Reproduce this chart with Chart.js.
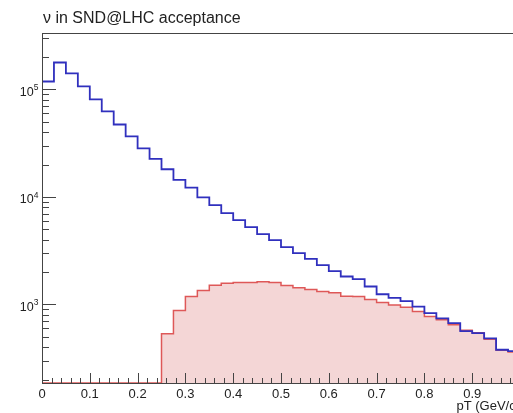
<!DOCTYPE html>
<html>
<head>
<meta charset="utf-8">
<script src="https://cdn.jsdelivr.net/npm/chart.js@4"></script>
<style>
  html, body { margin: 0; padding: 0; background: #fff; overflow: hidden; }
  #wrap { width: 513px; height: 413px; overflow: hidden; }
</style>
</head>
<body>
<div id="wrap"><canvas id="myChart" width="540" height="413"></canvas></div>
<script>
const titleText = "ν in SND@LHC acceptance";
const xTitle = "pT (GeV/c)";

const binWidth = 0.025;
const xTickLabels = ["0", "0.1", "0.2", "0.3", "0.4", "0.5", "0.6", "0.7", "0.8", "0.9", "1"];

// all neutrinos in acceptance
const allCounts = [118600, 178000, 141000, 107000, 81000, 62400, 47200, 36600, 28300, 22600,
  18100, 14400, 12200, 9900, 8400, 7070, 6080, 5240, 4510, 3960,
  3410, 3000, 2660, 2320, 2040, 1820, 1720, 1470, 1245, 1153,
  1072, 956, 830, 741, 670, 565, 541, 483, 379, 368];

// selected ones (red, filled)
const selCounts = [0, 0, 0, 0, 0, 0, 0, 0, 0, 0,
  534, 880, 1187, 1350, 1513, 1578, 1603, 1603, 1625, 1600,
  1502, 1428, 1379, 1321, 1285, 1190, 1187, 1113, 1044, 986,
  944, 861, 773, 720, 646, 577, 546, 476, 375, 362];

const yMin = 186, yMax = 335000;

// one point per bin low edge, plus the last upper edge
function toSteps(counts) {
  var pts = counts.map(function (v, i) {
    return { x: i * binWidth, y: Math.max(v, yMin) };
  });
  pts.push({ x: counts.length * binWidth, y: Math.max(counts[counts.length - 1], yMin) });
  return pts;
}

var rootAxes = {
  id: 'rootAxes',
  afterDatasetsDraw: function (chart) {
    var ctx = chart.ctx, a = chart.chartArea;
    var xs = chart.scales.x, ys = chart.scales.y;
    ctx.save();
    ctx.strokeStyle = '#444';
    ctx.lineWidth = 1;
    ctx.strokeRect(Math.round(a.left) + 0.5, Math.round(a.top) + 0.5, a.right - a.left, a.bottom - a.top);

    // x ticks pointing up
    ctx.beginPath();
    for (var i = 0; i <= 50; i++) {
      var px = Math.round(xs.getPixelForValue(i * 0.02)) + 0.5;
      var len = (i % 5 === 0) ? 10 : 5;
      ctx.moveTo(px, a.bottom);
      ctx.lineTo(px, a.bottom - len);
    }
    // y ticks pointing right
    for (var n = 2; n <= 5; n++) {
      for (var k = 1; k <= 9; k++) {
        var v = k * Math.pow(10, n);
        if (v < yMin || v > yMax) continue;
        var py = Math.round(ys.getPixelForValue(v)) + 0.5;
        ctx.moveTo(a.left, py);
        ctx.lineTo(a.left + (k === 1 ? 14 : 7), py);
      }
    }
    ctx.stroke();

    ctx.fillStyle = '#222';
    ctx.font = '13px "Liberation Sans", Arial, sans-serif';
    ctx.textAlign = 'center';
    ctx.textBaseline = 'alphabetic';
    xTickLabels.forEach(function (lab, i) {
      ctx.fillText(lab, xs.getPixelForValue(i * 0.1), 398);
    });

    // log labels 10^n
    for (var n = 3; n <= 5; n++) {
      var py = ys.getPixelForValue(Math.pow(10, n));
      ctx.font = '8.5px "Liberation Sans", Arial, sans-serif';
      ctx.textAlign = 'right';
      ctx.fillText(String(n), 38.5, py + 1);
      var sw = ctx.measureText(String(n)).width;
      ctx.font = '12.5px "Liberation Sans", Arial, sans-serif';
      ctx.fillText('10', 38.5 - sw, py + 6.5);
    }

    ctx.font = '13px "Liberation Sans", Arial, sans-serif';
    ctx.textAlign = 'right';
    ctx.fillText(xTitle, a.right, 410);

    ctx.font = '16px "Liberation Sans", Arial, sans-serif';
    ctx.textAlign = 'left';
    ctx.fillText(titleText, 43, 22.5);
    ctx.restore();
  }
};

var myChart = document.getElementById('myChart').getContext('2d');
var customChart = new Chart(myChart, {
  type: 'line',
  data: {
    datasets: [{
      label: 'all',
      data: toSteps(allCounts),
      stepped: 'before',
      borderColor: 'rgb(48,48,190)',
      borderWidth: 1.8,
      pointRadius: 0,
      fill: false
    }, {
      label: 'selected',
      data: toSteps(selCounts),
      stepped: 'before',
      borderColor: 'rgb(222,88,88)',
      backgroundColor: 'rgb(244,214,214)',
      borderWidth: 1.5,
      pointRadius: 0,
      fill: 'start'
    }]
  },
  options: {
    responsive: false,
    animation: false,
    layout: { padding: { left: 42, top: 33, right: 20, bottom: 30 } },
    plugins: { legend: { display: false }, tooltip: { enabled: false }, title: { display: false } },
    scales: {
      x: { type: 'linear', min: 0, max: 1, display: false },
      y: { type: 'logarithmic', min: yMin, max: yMax, display: false }
    }
  },
  plugins: [rootAxes]
});
</script>
</body>
</html>
